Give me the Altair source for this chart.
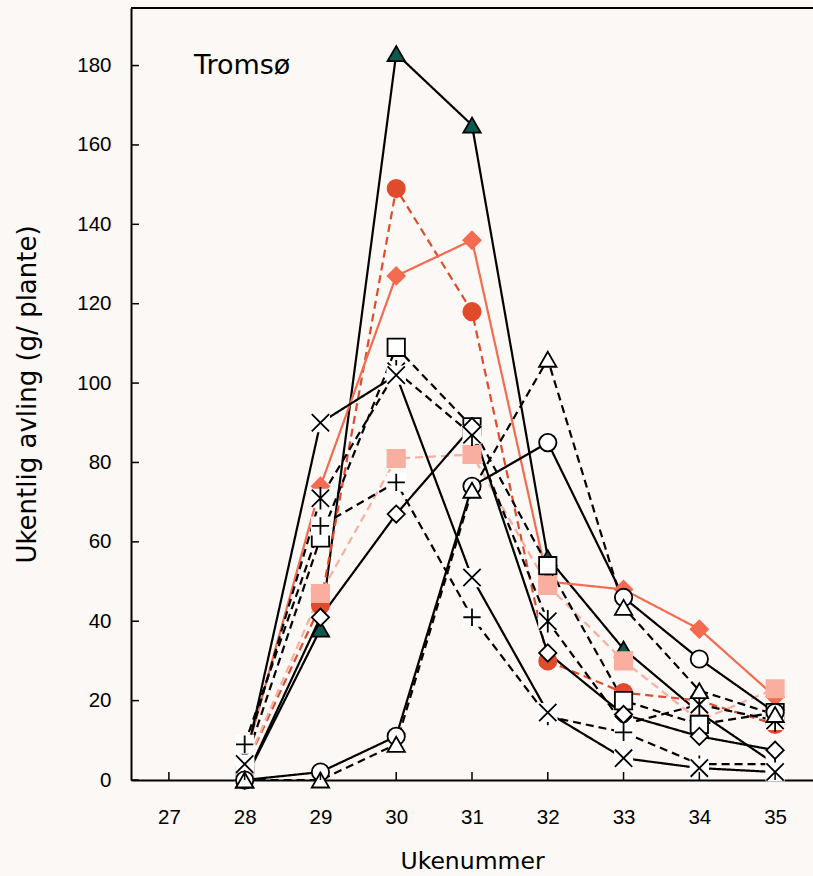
import altair as alt
import pandas as pd

weeks = [28, 29, 30, 31, 32, 33, 34, 35]

green_triangle = [0, 38, 183, 165, 56, 33, 17, 4]
red_circle = [3, 44, 149, 118, 30, 22, 20, 14]
coral_diamond = [5, 74, 127, 136, 50, 48, 38, 21]
pink_square = [3, 47, 81, 82, 49, 30, 15, 23]
open_square = [4, 61, 109, 89, 54, 20, 14, 17]
x_mark = [4, 90, 102, 51, 17, 5.5, 3, 2]
asterisk = [6, 71, 103, 87, 40, 14, 19, 15]
plus_mark = [9, 64, 75, 41, 16, 12, 4, 4]
open_diamond = [0, 41, 67, 89, 32, 16.5, 11, 7.5]
open_circle = [0, 2, 11, 74, 85, 46, 30.5, 17]
open_triangle = [0, 0, 9, 73, 106, 43.5, 22.5, 16.5]

x_ticks = [27, 28, 29, 30, 31, 32, 33, 34, 35]
y_ticks = [0, 20, 40, 60, 80, 100, 120, 140, 160, 180]

BG = "#FBF8F5"
GREEN = "#0C5A4E"
RED = "#E04B2C"
CORAL = "#F46B50"
PINK = "#F9AE9F"

X_PATH = "M-1,-1L1,1M-1,1L1,-1"
AST_PATH = "M-1,-1L1,1M-1,1L1,-1M0,-1.3L0,1.3"
PLUS_PATH = "M-1,0L1,0M0,-1L0,1"

# name, values, line colour, dashed, shape, fill, stroke, white box behind marker
series = [
    ("s_tri_green", green_triangle, "black", False, "triangle-up", GREEN, "black", False),
    ("s_circ_red", red_circle, RED, True, "circle", RED, RED, False),
    ("s_dia_coral", coral_diamond, CORAL, False, "diamond", CORAL, CORAL, False),
    ("s_sq_pink", pink_square, PINK, True, "square", PINK, PINK, False),
    ("s_sq_open", open_square, "black", True, "square", "white", "black", False),
    ("s_ast", asterisk, "black", True, AST_PATH, "white", "black", True),
    ("s_plus", plus_mark, "black", True, PLUS_PATH, "white", "black", True),
    ("s_x", x_mark, "black", False, X_PATH, "white", "black", True),
    ("s_dia_open", open_diamond, "black", False, "diamond", "white", "black", False),
    ("s_circ_open", open_circle, "black", False, "circle", "white", "black", False),
    ("s_tri_open", open_triangle, "black", True, "triangle-up", "white", "black", False),
]

line_rows = []
point_rows = []
mk_names, mk_shapes, mk_fills, mk_strokes = [], [], [], []
order = 0
for name, vals, lc, dashed, shape, fill, stroke, box in series:
    for w, v in zip(weeks, vals):
        line_rows.append({"serie": name, "uke": w, "avling": v})
    if box:
        bname = name + "_box"
        mk_names.append(bname); mk_shapes.append("square"); mk_fills.append("white"); mk_strokes.append("white")
        for w, v in zip(weeks, vals):
            point_rows.append({"mk": bname, "uke": w, "avling": v, "ord": order})
        order += 1
    mk_names.append(name); mk_shapes.append(shape); mk_fills.append(fill); mk_strokes.append(stroke)
    for w, v in zip(weeks, vals):
        point_rows.append({"mk": name, "uke": w, "avling": v, "ord": order})
    order += 1

df_lines = pd.DataFrame(line_rows)
df_points = pd.DataFrame(point_rows)

names = [s[0] for s in series]
line_colors = [s[2] for s in series]
dashes = [[8, 5] if s[3] else [1, 0] for s in series]

XDOM = [26.5, 35.5]
YDOM = [0, 194.5]
xs = alt.Scale(domain=XDOM, nice=False, zero=False)
ys = alt.Scale(domain=YDOM, nice=False, zero=False)

LFONT = "Liberation Sans"
FONT = "DejaVu Sans"

lines = alt.Chart(df_lines).mark_line(strokeWidth=2.2).encode(
    x=alt.X("uke:Q", scale=xs, axis=alt.Axis(
        values=x_ticks, format="d", title="Ukenummer", ticks=False, tickSize=0,
        labelPadding=27, titlePadding=22, grid=False,
        domainColor="black", domainWidth=2,
        labelFontSize=20.5, titleFontSize=23.5, labelFont=LFONT, titleFont=FONT,
        labelColor="black", titleColor="black", titleFontWeight="normal")),
    y=alt.Y("avling:Q", scale=ys, axis=alt.Axis(
        values=y_ticks, format="d", title="Ukentlig avling (g/ plante)", ticks=False, tickSize=0,
        labelPadding=20, titlePadding=36, grid=False,
        domainColor="black", domainWidth=2,
        labelFontSize=20.5, titleFontSize=26, labelFont=LFONT, titleFont=FONT,
        labelColor="black", titleColor="black", titleFontWeight="normal")),
    color=alt.Color("serie:N", scale=alt.Scale(domain=names, range=line_colors), legend=None),
    strokeDash=alt.StrokeDash("serie:N", scale=alt.Scale(domain=names, range=dashes), legend=None),
    detail="serie:N",
)

points = alt.Chart(df_points).mark_point(filled=True, size=300, strokeWidth=1.8, opacity=1).encode(
    x=alt.X("uke:Q", scale=xs),
    y=alt.Y("avling:Q", scale=ys),
    shape=alt.Shape("mk:N", scale=alt.Scale(domain=mk_names, range=mk_shapes), legend=None),
    fill=alt.Fill("mk:N", scale=alt.Scale(domain=mk_names, range=mk_fills), legend=None),
    stroke=alt.Stroke("mk:N", scale=alt.Scale(domain=mk_names, range=mk_strokes), legend=None),
    order=alt.Order("ord:Q"),
)

xt = pd.DataFrame({"t": x_ticks, "y0": [0] * len(x_ticks), "y1": [2.0] * len(x_ticks)})
x_tick_rules = alt.Chart(xt).mark_rule(color="black", strokeWidth=1.5).encode(
    x=alt.X("t:Q", scale=xs), y=alt.Y("y0:Q", scale=ys), y2="y1:Q")

yt = pd.DataFrame({"t": y_ticks, "x0": [XDOM[0]] * len(y_ticks), "x1": [XDOM[0] + 0.105] * len(y_ticks)})
y_tick_rules = alt.Chart(yt).mark_rule(color="black", strokeWidth=1.5).encode(
    y=alt.Y("t:Q", scale=ys), x=alt.X("x0:Q", scale=xs), x2="x1:Q")

top = pd.DataFrame({"y": [YDOM[1]], "x0": [XDOM[0]], "x1": [XDOM[1]]})
top_rule = alt.Chart(top).mark_rule(color="black", strokeWidth=2).encode(
    y=alt.Y("y:Q", scale=ys), x=alt.X("x0:Q", scale=xs), x2="x1:Q")

lab = pd.DataFrame({"x": [27.33], "y": [180], "txt": ["Tromsø"]})
label = alt.Chart(lab).mark_text(align="left", baseline="middle", fontSize=27, font=FONT, color="black").encode(
    x=alt.X("x:Q", scale=xs), y=alt.Y("y:Q", scale=ys), text="txt:N")

chart = alt.layer(
    lines, points, x_tick_rules, y_tick_rules, top_rule, label
).properties(
    width=682, height=772,
    autosize=alt.AutoSizeParams(type="none"),
    padding={"left": 131, "top": 8, "right": 0, "bottom": 96},
    background=BG,
).configure_view(stroke=None, fill=BG)

chart.save("out.html", embed_options={"renderer": "svg", "actions": False})
